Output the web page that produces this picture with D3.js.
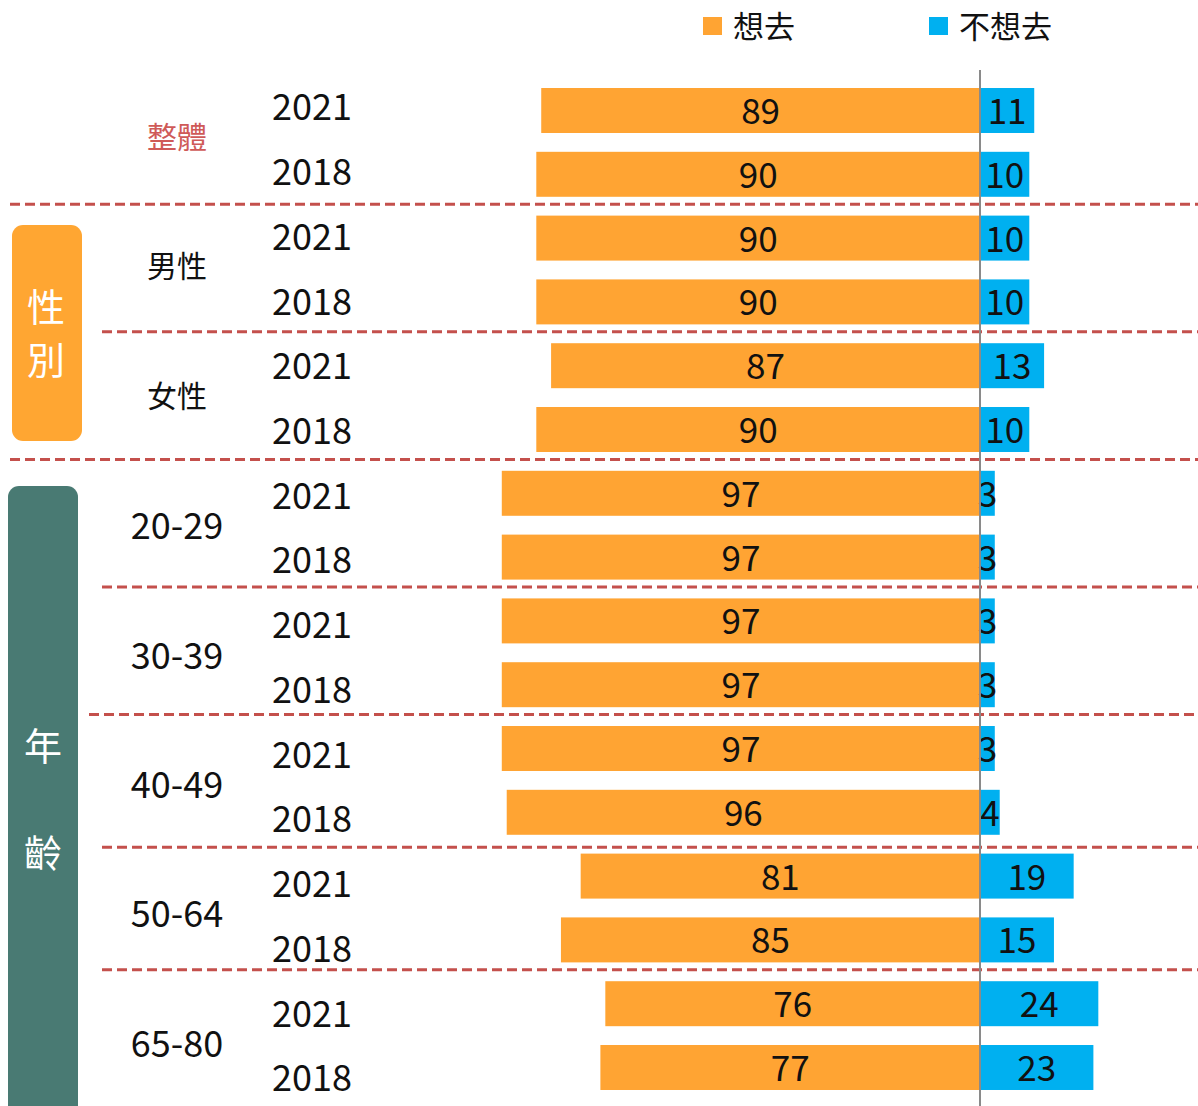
<!DOCTYPE html>
<html>
<head>
<meta charset="utf-8">
<script src="https://cdn.jsdelivr.net/npm/d3@7"></script>
<style>
  html, body { margin: 0; padding: 0; background: #fff; }
  svg text { font-family: "Noto Sans CJK TC", "Noto Sans", sans-serif; }
</style>
</head>
<body>
<div id="chart"></div>
<script>
// chart data
const groups = ["整體", "男性", "女性", "20-29", "30-39", "40-49", "50-64", "65-80"];
const years = ["2021", "2018"];
const want = [89, 90, 90, 90, 87, 90, 97, 97, 97, 97, 97, 96, 81, 85, 76, 77];
const notWant = [11, 10, 10, 10, 13, 10, 3, 3, 3, 3, 3, 4, 19, 15, 24, 23];
const seriesNames = ["想去", "不想去"];
// side category boxes: label, first group, last group
const sections = [
  {label: "性別", from: 1, to: 2},
  {label: "年齡", from: 3, to: 7}
];

const W = 1198, H = 1106;
const colWant = "#FFA433", colNot = "#00B0F0";
const colDash = "#C4504C";

const rows = [];
groups.forEach((g, gi) => years.forEach((yr, yi) => {
  const i = gi * 2 + yi;
  rows.push({i, group: g, gi, year: yr, want: want[i], notWant: notWant[i]});
}));
const idx = rows.map(d => d.i);

const svg = d3.select("#chart").append("svg")
  .attr("width", W).attr("height", H);

// bar positions
const y = d3.scaleBand().domain(idx).range([78.6, 78.6 + 16 * 63.8])
  .paddingInner(0.295).paddingOuter(0.1475);
// label positions (slightly looser grid than the bars)
const yLab = d3.scaleBand().domain(idx).range([72, 72 + 16 * 64.73]);
const labY = i => yLab(i) + yLab.bandwidth() / 2;

const x = d3.scaleLinear().domain([-100, 100]).range([487, 1473]);

// side boxes
sections.forEach((s, k) => {
  const top = k === 0 ? 225 : 486;
  const bottom = k === 0 ? 441 : H + 12;
  const g = svg.append("g");
  g.append("rect")
    .attr("x", k === 0 ? 12 : 8).attr("y", top)
    .attr("width", 70).attr("height", bottom - top)
    .attr("rx", 11)
    .attr("fill", k === 0 ? "#FFA632" : "#497A73");
  const chars = s.label.split("");
  const mid = k === 0 ? 331 : 797;
  const gap = k === 0 ? 53 : 107;
  chars.forEach((c, j) => {
    g.append("text")
      .attr("x", k === 0 ? 46 : 43)
      .attr("y", mid + (j - (chars.length - 1) / 2) * gap)
      .attr("text-anchor", "middle")
      .attr("dominant-baseline", "central")
      .attr("fill", "#fff")
      .style("font-size", "38px")
      .text(c);
  });
});

// dashed separators between groups
const sepStart = gi => sections.some(s => gi === s.from - 1 || gi === s.to) ? 10 : (gi === 4 ? 89 : 102);
d3.range(groups.length - 1).forEach(gi => {
  const a = y(gi * 2 + 1) + y.bandwidth();
  const b = y(gi * 2 + 2);
  const yy = (a + b) / 2 - 2 + (gi === 5 ? 5 : 0);
  svg.append("line")
    .attr("x1", sepStart(gi)).attr("x2", W)
    .attr("y1", yy).attr("y2", yy)
    .attr("stroke", colDash)
    .attr("stroke-width", 3)
    .attr("stroke-dasharray", "10,5");
});

// bars
svg.selectAll("rect.want").data(rows).enter().append("rect")
  .attr("class", "want")
  .attr("x", d => x(-d.want)).attr("y", d => y(d.i))
  .attr("width", d => x(0) - x(-d.want)).attr("height", y.bandwidth())
  .attr("fill", colWant);

svg.selectAll("rect.not").data(rows).enter().append("rect")
  .attr("class", "not")
  .attr("x", x(0)).attr("y", d => y(d.i))
  .attr("width", d => x(d.notWant) - x(0)).attr("height", y.bandwidth())
  .attr("fill", colNot);

// value labels
svg.selectAll("text.vw").data(rows).enter().append("text")
  .attr("class", "vw")
  .attr("x", d => (x(-d.want) + x(0)) / 2)
  .attr("y", d => y(d.i) + y.bandwidth() / 2 - 2)
  .attr("text-anchor", "middle").attr("dominant-baseline", "central")
  .attr("fill", "#111").style("font-size", "35px")
  .text(d => d.want);

svg.selectAll("text.vn").data(rows).enter().append("text")
  .attr("class", "vn")
  .attr("x", d => (x(d.notWant) + x(0)) / 2)
  .attr("y", d => y(d.i) + y.bandwidth() / 2 - 2)
  .attr("text-anchor", "middle").attr("dominant-baseline", "central")
  .attr("fill", "#111").style("font-size", "35px")
  .text(d => d.notWant);

// zero axis line
svg.append("line")
  .attr("x1", x(0)).attr("x2", x(0))
  .attr("y1", 70).attr("y2", H)
  .attr("stroke", "#8a8a8a").attr("stroke-width", 2);

// year labels
svg.selectAll("text.year").data(rows).enter().append("text")
  .attr("class", "year")
  .attr("x", 272).attr("y", d => labY(d.i))
  .attr("dominant-baseline", "central")
  .attr("fill", "#111").style("font-size", "36px")
  .text(d => d.year);

// group labels
svg.selectAll("text.grp").data(groups).enter().append("text")
  .attr("class", "grp")
  .attr("x", 177)
  .attr("y", (g, gi) => (labY(gi * 2) + labY(gi * 2 + 1)) / 2 - 2)
  .attr("text-anchor", "middle").attr("dominant-baseline", "central")
  .attr("fill", (g, gi) => gi === 0 ? "#CF5A58" : "#111")
  .style("font-size", (g, gi) => gi < 3 ? "30px" : "36px")
  .text(g => g);

// legend
const legX = [703, 929];
const legend = svg.selectAll("g.leg").data(seriesNames).enter().append("g")
  .attr("class", "leg")
  .attr("transform", (d, k) => `translate(${legX[k]},17)`);
legend.append("rect")
  .attr("width", 19).attr("height", 18)
  .attr("fill", (d, k) => k === 0 ? colWant : colNot);
legend.append("text")
  .attr("x", 30).attr("y", 7)
  .attr("dominant-baseline", "central")
  .attr("fill", "#111").style("font-size", "31px")
  .text(d => d);
</script>
</body>
</html>
